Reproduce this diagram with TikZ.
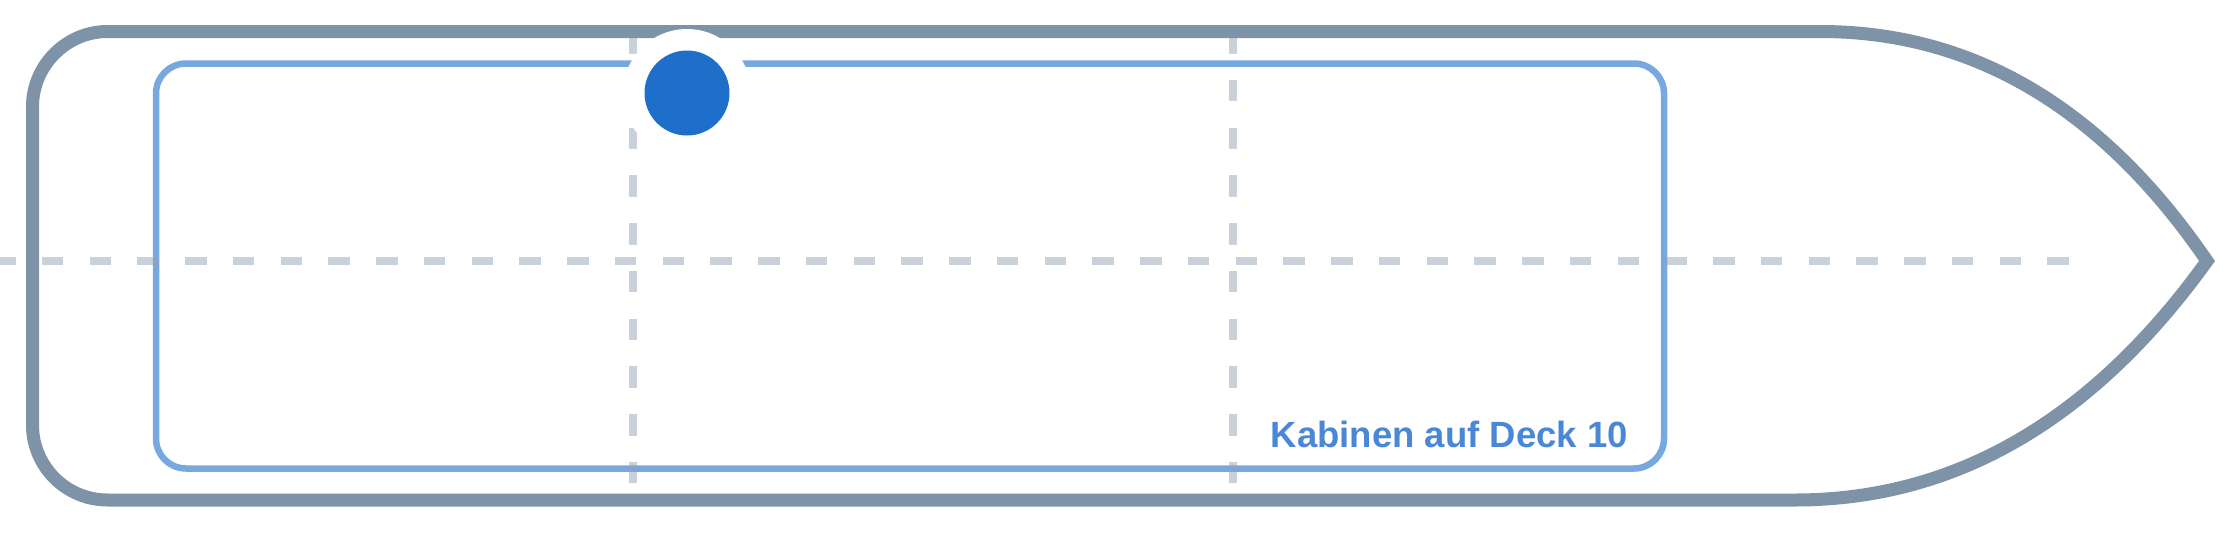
\documentclass[tikz,border=0pt]{standalone}
\usepackage{fontspec}
\setmainfont{Liberation Sans}
\definecolor{hullc}{HTML}{7F93A8}
\definecolor{cabinc}{HTML}{77A8E0}
\definecolor{guidec}{HTML}{94A3B8}
\definecolor{dotc}{HTML}{1D6FCA}
\definecolor{labelc}{HTML}{4A88D6}
\tikzset{
  hullline/.style={draw=hullc, line width=13pt, line join=miter},
  cabinline/.style={draw=cabinc, line width=6.5pt, rounded corners=30pt},
  guideline/.style={draw=guidec, draw opacity=0.5, line width=7.5pt, dash pattern=on 21.5pt off 26.25pt},
  halo/.style={fill=white, draw=none},
  marker/.style={fill=dotc, draw=none},
  decklabel/.style={text=labelc, font=\fontsize{36.5}{40}\selectfont\bfseries, anchor=base east, inner sep=0pt}
}
\begin{document}
\begin{tikzpicture}[x=1pt,y=-1pt]
\useasboundingbox (0,0) rectangle (2240,533);
% cabin outline
\draw[cabinline] (156,63.5) rectangle (1664,468.5);
% guide lines
\coordinate (hl) at (-6,261);
\coordinate (hr) at (2069,261);
\coordinate (v1t) at (633,32);
\coordinate (v1b) at (633,500);
\coordinate (v2t) at (1233,32);
\coordinate (v2b) at (1233,500);
\draw[guideline] (hl) -- (hr);
\draw[guideline] (v1t) -- (v1b);
\draw[guideline] (v2t) -- (v2b);
% hull
\draw[hullline] (107.5,31.5) -- (1820,31.5)
  .. controls (1973.3,31.5) and (2102.3,108) .. (2207,261)
  .. controls (2092.3,420.3) and (1955,500) .. (1795,500)
  -- (107.5,500)
  .. controls (66.1,500) and (32.5,466.4) .. (32.5,425)
  -- (32.5,106.5)
  .. controls (32.5,65.9) and (66.1,31.5) .. (107.5,31.5) -- cycle;
% position marker
\fill[halo] (687,93) circle (64);
\fill[marker] (687,93) circle (42.5);
% label
\node[decklabel] (lbl) at (1628,447) {Kabinen auf Deck 10};
\end{tikzpicture}
\end{document}
